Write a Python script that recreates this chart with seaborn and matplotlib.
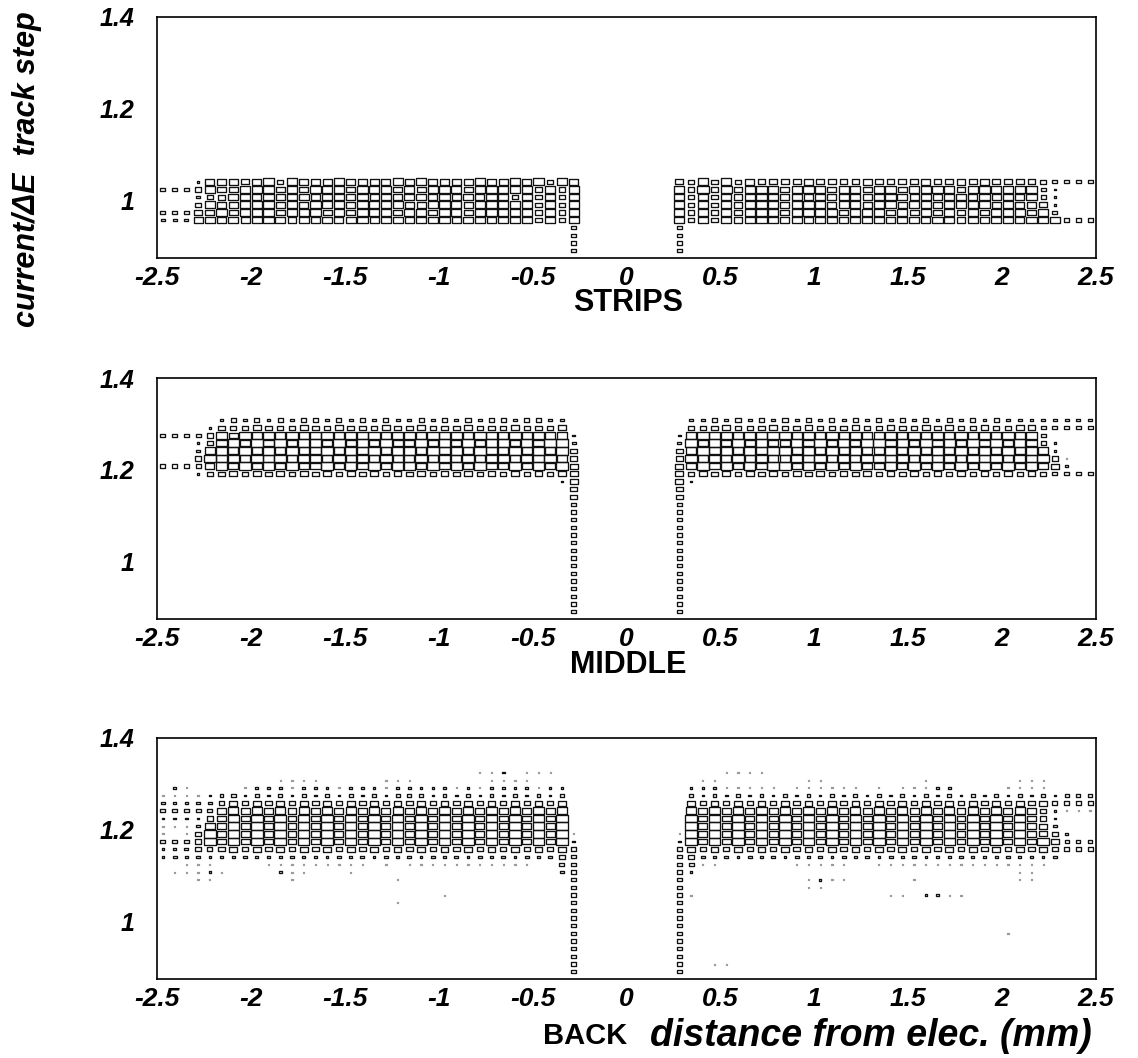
import numpy as np
import pandas as pd
import matplotlib
matplotlib.use("Agg")
import matplotlib.pyplot as plt
from matplotlib.path import Path
from matplotlib.ticker import FixedLocator, MultipleLocator
import seaborn as sns

# ---------------------------------------------------------------- binning
X_MIN, X_MAX, NX = -2.5, 2.5, 80
X_BIN = (X_MAX - X_MIN) / NX
Y_BIN = 1.0 / 60.0
Y_LIM = (0.876, 1.4)
GAP_START = 44          # first column of the right-hand half

panel_titles = ["STRIPS", "MIDDLE", "BACK"]
x_tick_values = [-2.5, -2, -1.5, -1, -0.5, 0, 0.5, 1, 1.5, 2, 2.5]
x_tick_labels = ["-2.5", "-2", "-1.5", "-1", "-0.5", "0", "0.5", "1", "1.5", "2", "2.5"]
y_tick_values = [1.0, 1.2, 1.4]
y_tick_labels = ["1", "1.2", "1.4"]
y_label = "current/\u0394E  track step"
x_label = "distance from elec. (mm)"


def tail(level):
    """Row holding only the two columns next to the electrode gap."""
    return ("." * 35 + level, level + "." * 35)


# Box-size level (1..9) per cell; key = y bin index, value = (cols 0-35, cols 44-79)
strips_cells = {
    62: ("...2" "77767858" "77787777" "87877778" "77878587",
         "65858576" "66676666" "76666766" "76766665" "4444"),
    61: ("4445" "87788878" "78887888" "78788878" "88885858",
         "85959788" "87888788" "78878898" "7888888" "42..."),
    60: ("...35" "68878788" "78878787" "88787878" "8585858",
         "85858788" "87878788" "78887878" "8787878" "42..."),
    59: ("...5" "87788878" "78887888" "87788878" "88885858",
         "85858788" "87888788" "78878878" "88878776" "2..."),
    58: ("4446" "78788878" "88787888" "78878878" "88885858",
         "85858788" "87888878" "88787878" "78788878" "4..."),
    57: ("3337" "87878887" "87878878" "87888788" "78885858",
         "85858788" "87878878" "88788788" "78788788" "8" "444"),
    56: tail("4"), 55: tail("4"), 54: tail("4"), 53: tail("4"),
}

middle_cells = {
    78: ("....." "34343434" "43434343" "34343434" "434433" ".",
         "." "33434343" "43434343" "43434343" "43433333" "333"),
    77: ("...." "2" "55565556" "55655565" "56555655" "565556" ".",
         "." "55565556" "55655565" "56556565" "565566" "44444"),
    76: ("4444" "5" "87989898" "89898989" "98989898" "898988" "2",
         "2" "89898989" "98989898" "89898989" "898989" "4" "...."),
    75: ("...2" "5" "89898989" "98989898" "89898989" "989899" "3",
         "3" "98989898" "89898989" "98989898" "989898" "4" "2" "..."),
    74: ("...3" "8" "98989898" "89898989" "98989898" "898989" "5",
         "5" "89898989" "98989898" "89898989" "8989898" "2" "..."),
    73: ("...5" "9" "89898989" "98989898" "89898989" "989898" "5",
         "5" "98989898" "89898989" "98989898" "9898989" "5" "1" ".."),
    72: ("4444" "7" "98989898" "89898989" "98989898" "898989" "6",
         "6" "89898989" "98989898" "89898989" "8989898" "6" "2" ".."),
    71: ("...2" "5" "56565656" "56565656" "56565656" "565656" "6",
         "6" "56565656" "56565656" "56565656" "565656" "54444"),
    70: ("." * 34 + "26", "62" + "." * 34),
    69: tail("5"), 68: tail("5"), 67: tail("4"), 66: tail("4"), 65: tail("4"),
    64: tail("4"), 63: tail("4"), 62: tail("4"), 61: tail("4"), 60: tail("4"),
    59: tail("4"), 58: tail("4"), 57: tail("4"), 56: tail("4"), 55: tail("4"),
    54: tail("4"), 53: tail("4"),
}

back_cells = {
    79: ("." * 27 + "112.111..", "...." "1111" + "." * 28),
    78: (".........." "1111" "....." "111" "......" "1111" "....",
         ".." "11" "......." "11" "........" "1" "......." "111" "...."),
    77: (".21...." "12221222" "12221222" "22121222" "2122" ".",
         "." "222" "11111" "." "111111" "." "1" "." "111" "22" "...." "1111" "...."),
    76: ("1111" "2" "34232323" "23232323" "33232323" "232323" ".",
         "." "32323232" "32323232" "32323232" "32323232" "333"),
    75: ("3223" "3" "4" "65656565" "65656565" "65656565" "65656" ".",
         "." "65656565" "65656565" "65656565" "6565656" "4444"),
    74: ("4444" "4" "78787878" "78787878" "78787878" "787878" ".",
         "." "87878787" "87878787" "87878787" "878787" "5" "2" "111"),
    73: ("2222" "5" "79797979" "79797979" "79797979" "797979" ".",
         "." "97979797" "97979797" "97979797" "979797" "5" "2" "..."),
    72: ("1113" "8" "79797979" "79797979" "79797979" "797979" ".",
         "." "97979797" "97979797" "97979797" "979797" "6" "3" "..."),
    71: ("1.15" "9" "79797979" "79797979" "79797979" "797979" "1",
         "1" "97979797" "97979797" "97979797" "979797" "6" "5" "2" ".."),
    70: ("4445" "9" "79797979" "79797979" "79797979" "797979" "2",
         "2" "97979797" "97979797" "97979797" "9797979" "6" "333"),
    69: ("2235" "4" "56565656" "56565656" "56565656" "56565" "6" "4",
         "4" "6" "56565656" "56565656" "56565656" "5656565" "444"),
    68: ("23232323" "23232323" "23232323" "23232323" "23" "5" "4",
         "4" "5" "32323232" "32323232" "32323232" "3232323" "..."),
    67: (".." "111" "...." "11111111" "1.1." "1111111" "1111" ".." "4" "4",
         "4" "4" "11......" "11111" ".." "111111111111111" "...."),
    66: (".11121....211...1" + "." * 17 + "34",
         "42" + "." * 27 + "11" + "....."),
    65: ("..." "11" "......" "1" "........" "1" + "." * 14 + "4",
         "4" ".........." "1211" "....." "1" "........" "11" "....."),
    64: ("." * 35 + "4", "4" ".........." "11" + "." * 23),
    63: ("." * 24 + "1" + "." * 10 + "4",
         "4" "1" + "." * 16 + "11" "." "22" "11" + "." * 11),
    62: ("." * 20 + "1" + "." * 14 + "4", "4" + "." * 35),
    61: tail("4"), 60: tail("4"), 59: tail("4"),
    58: ("." * 35 + "4", "4" + "." * 27 + "1" + "." * 7),
    57: tail("4"), 56: tail("4"), 55: tail("4"),
    54: ("." * 35 + "4", "4" ".." "11" + "." * 31),
    53: tail("4"),
}


def cells_to_frame(name, rows):
    recs = []
    for j, (left, right) in rows.items():
        assert len(left) == 36 and len(right) == 36, (name, j, len(left), len(right))
        for offset, part in ((0, left), (GAP_START, right)):
            for i, ch in enumerate(part):
                if ch != ".":
                    col = offset + i
                    recs.append((name, X_MIN + (col + 0.5) * X_BIN,
                                 (j + 0.5) * Y_BIN, int(ch)))
    return pd.DataFrame(recs, columns=["panel", "x", "y", "level"])


data = pd.concat([cells_to_frame("STRIPS", strips_cells),
                  cells_to_frame("MIDDLE", middle_cells),
                  cells_to_frame("BACK", back_cells)], ignore_index=True)

# ---------------------------------------------------------------- figure
sns.set_style("white")
plt.rcParams["font.family"] = ["Liberation Sans", "DejaVu Sans"]
plt.rcParams["text.color"] = "black"

W, H, DPI = 1138, 1058, 100
fig = plt.figure(figsize=(W / DPI, H / DPI), dpi=DPI)

ax_left, ax_w = 157 / W, 939 / W
ax_h = 241 / H
ax_tops = [17, 378, 738]
axes = [fig.add_axes([ax_left, 1 - (t + 241) / H, ax_w, ax_h]) for t in ax_tops]

# box marker with the aspect ratio of one histogram cell
cell_w_px = 939 / NX
cell_h_px = 241 / (Y_LIM[1] - Y_LIM[0]) * Y_BIN
aspect = cell_w_px / cell_h_px
box = Path([(-1, -1 / aspect), (1, -1 / aspect), (1, 1 / aspect), (-1, 1 / aspect), (-1, -1 / aspect)],
           [Path.MOVETO, Path.LINETO, Path.LINETO, Path.LINETO, Path.CLOSEPOLY])
cell_w_pt = cell_w_px * 72 / DPI
data["area"] = (data["level"] / 9 * 0.98 * cell_w_pt) ** 2
a_lo, a_hi = data["area"].min(), data["area"].max()

x_tick_font = dict(fontsize=19, fontweight="bold", fontstyle="italic", color="black")
y_tick_font = dict(fontsize=18, fontweight="bold", fontstyle="italic", color="black")

for ax, name in zip(axes, panel_titles):
    sub = data[data["panel"] == name]
    strong = sub[sub["level"] >= 2]
    faint = sub[sub["level"] == 1]
    sns.scatterplot(data=strong, x="x", y="y", size="area", sizes=(a_lo, a_hi),
                    size_norm=(a_lo, a_hi), marker=box, color="black",
                    facecolor="none", edgecolor="#111111", linewidth=0.95,
                    legend=False, ax=ax)
    if len(faint):
        sns.scatterplot(data=faint, x="x", y="y", size="area", sizes=(a_lo, a_hi),
                        size_norm=(a_lo, a_hi), marker=box, color="#9a9a9a",
                        facecolor="none", edgecolor="#9a9a9a", linewidth=0.9,
                        legend=False, ax=ax)

    ax.set_xlim(X_MIN, X_MAX)
    ax.set_ylim(*Y_LIM)
    ax.set_xlabel("")
    ax.set_ylabel("")
    ax.xaxis.set_major_locator(FixedLocator(x_tick_values))
    ax.set_xticklabels(x_tick_labels, **x_tick_font)
    ax.xaxis.set_minor_locator(MultipleLocator(0.1))
    ax.yaxis.set_major_locator(FixedLocator(y_tick_values))
    ax.set_yticklabels(y_tick_labels, **y_tick_font)
    ax.yaxis.set_minor_locator(MultipleLocator(0.05))
    ax.tick_params(which="both", direction="in", top=False, right=False,
                   width=1.0, color="black", labelcolor="black")
    ax.tick_params(axis="x", which="major", length=13, pad=6)
    ax.tick_params(axis="x", which="minor", length=6.5)
    ax.tick_params(axis="y", which="major", length=11, pad=16)
    ax.tick_params(axis="y", which="minor", length=7)
    for sp in ax.spines.values():
        sp.set_linewidth(1.2)
        sp.set_color("black")

title_font = dict(fontweight="bold", ha="center", va="center", color="black")
fig.text(628 / W, 1 - 303 / H, "STRIPS", fontsize=22, **title_font)
fig.text(628 / W, 1 - 665 / H, "MIDDLE", fontsize=22, **title_font)
fig.text(585 / W, 1 - 1036 / H, "BACK", fontsize=21, **title_font)
fig.text(1092 / W, 1 - 1036 / H, x_label, fontsize=27, fontweight="bold",
         fontstyle="italic", ha="right", va="center", color="black")
fig.text(27 / W, 1 - 169 / H, y_label, fontsize=22, fontweight="bold",
         fontstyle="italic", rotation=90, ha="center", va="center", color="black")

fig.savefig("out.png", dpi=DPI, facecolor="white")
